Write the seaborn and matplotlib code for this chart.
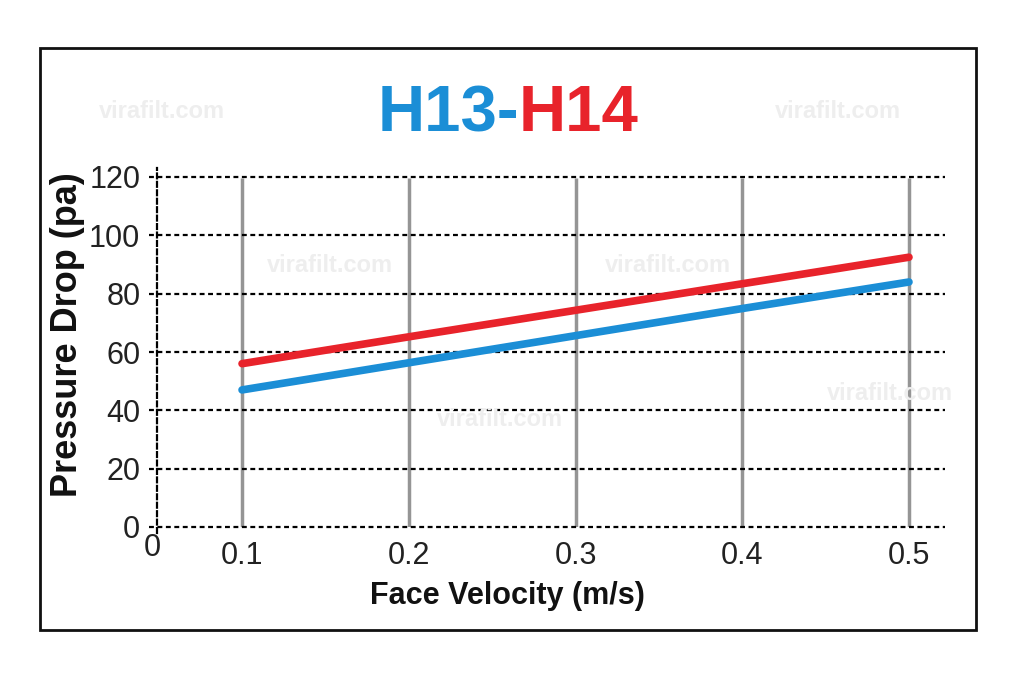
import matplotlib
matplotlib.use("Agg")
import matplotlib.pyplot as plt
import matplotlib.patches as mpatches
import seaborn as sns
import pandas as pd

velocity = [0.1, 0.2, 0.3, 0.4, 0.5]
h13 = [47, 56.3, 65.6, 74.9, 84]
h14 = [56, 65.2, 74.3, 83.4, 92.5]
y_ticks = [0, 20, 40, 60, 80, 100, 120]
x_ticks = [0.1, 0.2, 0.3, 0.4, 0.5]

BLUE = "#1b8ed6"
RED = "#e8232b"

sns.set_theme(style="white")
plt.rcParams["font.family"] = ["Liberation Sans", "DejaVu Sans"]

df = pd.DataFrame({
    "v": velocity * 2,
    "dp": h13 + h14,
    "grade": ["H13"] * len(velocity) + ["H14"] * len(velocity),
})

fig = plt.figure(figsize=(10.24, 6.82), dpi=100)
fig.patch.set_facecolor("white")
ax = fig.add_axes([157/1024, 1-527/682, (945-157)/1024, (527-177)/682])

# watermarks
wm = [(162, 112), (838, 112), (330, 265), (668, 265), (890, 393), (500, 420)]
for (px, py) in wm:
    fig.text(px/1024, 1-py/682, "virafilt.com", color="#eeeeee", fontsize=17,
             fontweight="bold", ha="center", va="center", zorder=0)

# gray verticals
ax.vlines(x_ticks, 0, 119.5, colors="#959595", lw=2.5, zorder=1)
# dotted horizontal grid
for yv in y_ticks:
    ax.axhline(yv, color="black", lw=1.6, ls=(0, (2.2, 1.6)), zorder=1, xmin=-0.01, clip_on=False)

sns.lineplot(data=df, x="v", y="dp", hue="grade", palette={"H13": BLUE, "H14": RED},
             lw=5.5, legend=False, ax=ax, zorder=3, solid_capstyle="round")

ax.set_xlim(0.049, 0.5216)
ax.set_ylim(0, 120)
for s in ["top", "right", "bottom"]:
    ax.spines[s].set_visible(False)
ax.spines["left"].set_linestyle((0, (2.2, 1.6)))
ax.spines["left"].set_linewidth(1.6)
ax.spines["left"].set_color("black")
ax.spines["left"].set_bounds(-2, 123)

ax.set_yticks(y_ticks)
ax.set_yticklabels([str(t) for t in y_ticks])
ax.set_xticks(x_ticks)
ax.set_xticklabels([f"{t:.1f}" for t in x_ticks])
ax.tick_params(axis="y", labelsize=22, length=0, pad=12)
ax.tick_params(axis="x", labelsize=22, length=0, pad=10)
for lab in ax.get_yticklabels() + ax.get_xticklabels():
    lab.set_color("#222222")
fig.text(152/1024, 1-548/682, "0", fontsize=22, ha="center", va="center", color="#222222")

ax.set_xlabel("Face Velocity (m/s)", fontsize=22, fontweight="bold", color="#111111")
ax.set_ylabel("Pressure Drop (pa)", fontsize=26, fontweight="bold", color="#111111")
ax.xaxis.set_label_coords(0.445, -0.155)
ax.yaxis.set_label_coords(-0.092, 0.549)

fig.text(519/1024, 1-114/682, "H13-", color=BLUE, fontsize=47, fontweight="bold",
         ha="right", va="center")
fig.text(519/1024, 1-114/682, "H14", color=RED, fontsize=47, fontweight="bold",
         ha="left", va="center")

fig.patches.append(mpatches.Rectangle((40/1024, 1-630/682), 936/1024, 582/682,
                                      transform=fig.transFigure, fill=False,
                                      edgecolor="#111111", lw=2))

fig.savefig("out.png", dpi=100, facecolor="white")
